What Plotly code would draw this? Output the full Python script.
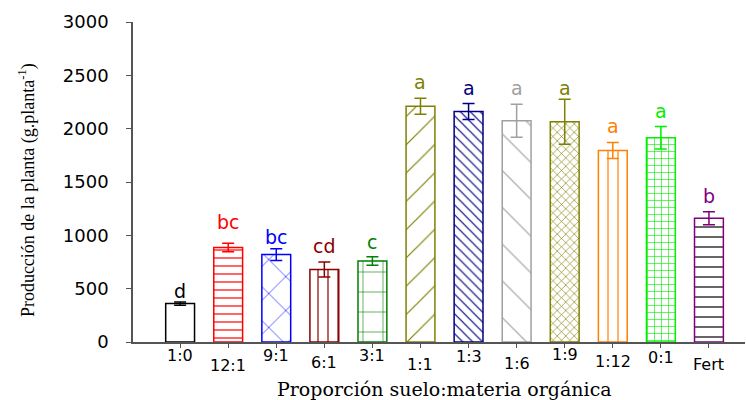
import plotly.graph_objects as go

categories = ["1:0", "12:1", "9:1", "6:1", "3:1", "1:1", "1:3", "1:6", "1:9", "1:12", "0:1", "Fert"]
values = [360, 885, 820, 680, 760, 2210, 2160, 2075, 2065, 1795, 1915, 1160]
errors = [15, 40, 55, 70, 40, 75, 75, 155, 210, 75, 105, 60]
letters = ["d", "bc", "bc", "cd", "c", "a", "a", "a", "a", "a", "a", "b"]

colors = ["#000000", "#FF0000", "#0000FF", "#8B0000", "#008000", "#808000",
          "#000080", "#A0A0A0", "#808000", "#FF8000", "#00F000", "#800080"]
pattern_fg = ["#000000", "#FF0000", "#0000FF", "#8B0000", "#008000", "#808000",
              "#000080", "#A0A0A0", "#808000", "#FF8000", "#00F000", "#000000"]
shapes = ["", "-", "x", "|", "+", "/", "\\", "\\", "x", "|", "+", "-"]
psizes = [8, 8, 24, 10, 20, 20, 7, 26, 6, 10, 7, 10]
label_shift = [-2, -12, -2, -9, -2, -11, -3, -10, -1, -8, -4, -11]
letter_shift = [-2, 8, -1, 3, 2, 3, 3, 3, -2, 4, 3, 3]

fig = go.Figure()
for i, c in enumerate(categories):
    fig.add_trace(go.Bar(
        x=[c], y=[values[i]],
        width=0.6,
        marker=dict(
            color="white",
            line=dict(color=colors[i], width=1.5),
            pattern=dict(shape=shapes[i], fgcolor=pattern_fg[i], bgcolor="white",
                         fgopacity=1, size=psizes[i], solidity=1.2 / psizes[i],
                         fillmode="overlay"),
        ),
        error_y=dict(type="data", array=[errors[i]], visible=True,
                     color=colors[i], thickness=1.5, width=6),
        showlegend=False,
        hoverinfo="skip",
    ))
    fig.add_annotation(x=c, y=values[i] + errors[i], xref="x", yref="y",
                       text=letters[i], showarrow=False, yanchor="bottom", yshift=letter_shift[i],
                       font=dict(family="DejaVu Sans", size=19, color=colors[i]))
    fig.add_annotation(x=c, y=0, xref="x", yref="paper", text=c, showarrow=False,
                       yanchor="top", yshift=label_shift[i],
                       font=dict(family="DejaVu Sans", size=16, color="black"))

fig.add_annotation(x=0.5, y=0, xref="paper", yref="paper", yanchor="top", xshift=5, yshift=-34,
                   text="Proporción suelo:materia orgánica", showarrow=False,
                   font=dict(family="DejaVu Serif", size=19, color="black"))

fig.add_annotation(x=-0.173, y=0.475, xref="paper", yref="paper", xanchor="center", yanchor="middle",
                   textangle=-90, showarrow=False,
                   text="Producción de la planta (g.planta<sup>-1</sup>)",
                   font=dict(family="Liberation Serif, Times New Roman", size=18, color="black"))

fig.update_layout(
    width=746, height=400,
    margin=dict(l=133, r=1, t=22, b=58, autoexpand=False),
    paper_bgcolor="white", plot_bgcolor="white",
    xaxis=dict(
        range=[-0.98, 11.75], showticklabels=False, automargin=False,
        showline=True, linecolor="#555555", linewidth=1.5,
        ticks="outside", ticklen=4, tickcolor="#555555", tickwidth=1,
        showgrid=False, zeroline=False,
    ),
    yaxis=dict(
        range=[0, 3000], tickvals=[0, 500, 1000, 1500, 2000, 2500, 3000],
        automargin=False,
        showline=True, linecolor="#555555", linewidth=1.5,
        ticks="outside", ticklen=5, tickcolor="#555555", tickwidth=1,
        ticklabelstandoff=14,
        showgrid=False, zeroline=False,
        tickfont=dict(family="DejaVu Sans", size=18, color="black"),
    ),
)

fig.write_html("out.html", config={"displayModeBar": False},
               post_script="document.body.style.margin='0';")
